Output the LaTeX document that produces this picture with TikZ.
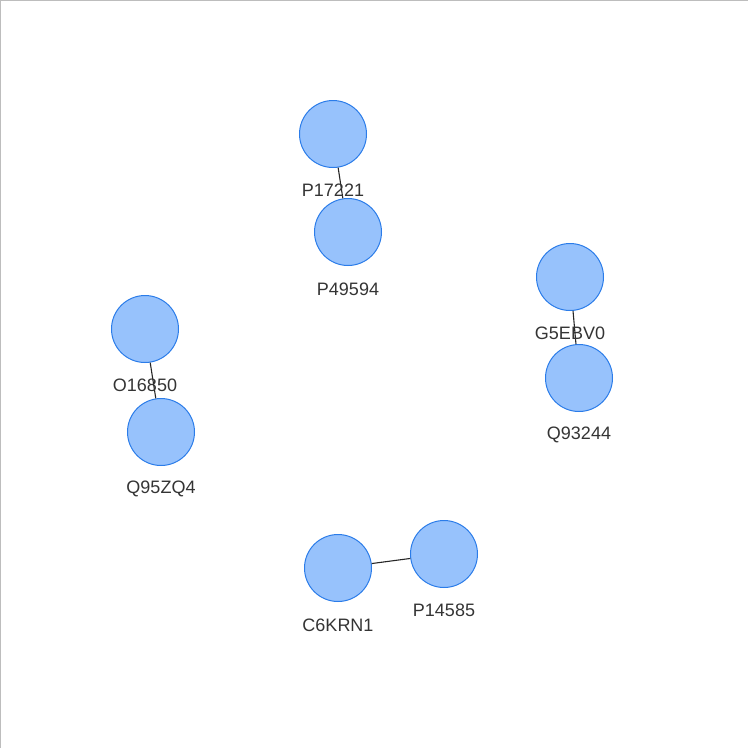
\documentclass[tikz,border=0pt]{standalone}
\usepackage{fontspec}
\setmainfont{Liberation Sans}
\definecolor{nodefill}{HTML}{97C2FC}
\definecolor{nodeline}{HTML}{2B7CE9}
\definecolor{labeltext}{HTML}{343434}
\definecolor{framegray}{HTML}{BDBDBD}
\begin{document}
\begin{tikzpicture}[x=1pt,y=-1pt,
  prot/.style={circle,draw=nodeline,fill=nodefill,line width=1pt,minimum size=67pt,inner sep=0pt},
  plabel/.style={text=labeltext,font=\fontsize{18}{20}\selectfont,inner sep=0pt},
  link/.style={draw=black!85,line width=1.1pt}]
\useasboundingbox (0,0) rectangle (748,748);
\draw[framegray,line width=1.5pt] (0.5,748) -- (0.5,0.5) -- (748,0.5);
% nodes
\node[prot] (P17221) at (333,134) {};
\node[prot] (P49594) at (348,232) {};
\node[prot] (G5EBV0) at (570,277) {};
\node[prot] (Q93244) at (579,378) {};
\node[prot] (O16850) at (145,329) {};
\node[prot] (Q95ZQ4) at (161,432) {};
\node[prot] (C6KRN1) at (338,568) {};
\node[prot] (P14585) at (444,554) {};
% edges
\draw[link] (P17221) -- (P49594);
\draw[link] (G5EBV0) -- (Q93244);
\draw[link] (O16850) -- (Q95ZQ4);
\draw[link] (C6KRN1) -- (P14585);
% labels
\node[plabel] (lP17221) at (333,190) {P17221};
\node[plabel] (lP49594) at (348,289) {P49594};
\node[plabel] (lG5EBV0) at (570,333) {G5EBV0};
\node[plabel] (lQ93244) at (579,435) {Q93244};
\node[plabel] (lO16850) at (145,385) {O16850};
\node[plabel] (lQ95ZQ4) at (161,489) {Q95ZQ4};
\node[plabel] (lC6KRN1) at (338,625) {C6KRN1};
\node[plabel] (lP14585) at (444,610) {P14585};
\end{tikzpicture}
\end{document}
